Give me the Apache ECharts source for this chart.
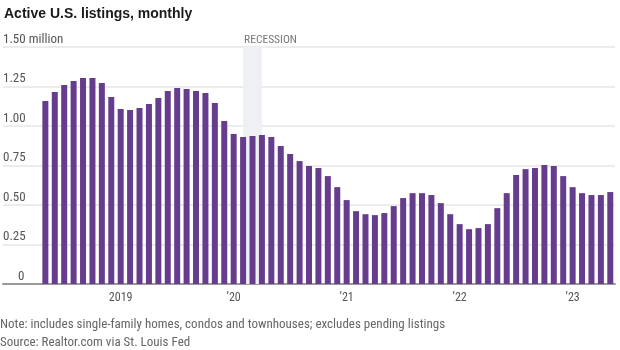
<!DOCTYPE html>
<html>
	<head>
		<meta charset="utf-8">
		<title></title>
		<script type="text/javascript" src="https://cdn.jsdelivr.net/npm/echarts@6/dist/echarts.min.js"></script>
	</head>
	<body style="margin:0;">
		<div id="chart" style="width:620px;height:350px;"></div>
		<script type="text/javascript">
			// empty months before the first bar, so the plot starts at the left edge
			var padMonths = ['2018-01', '2018-02', '2018-03', '2018-04'];
			var months = [
				'2018-05', '2018-06', '2018-07', '2018-08', '2018-09', '2018-10', '2018-11', '2018-12',
				'2019-01', '2019-02', '2019-03', '2019-04', '2019-05', '2019-06', '2019-07', '2019-08', '2019-09', '2019-10', '2019-11', '2019-12',
				'2020-01', '2020-02', '2020-03', '2020-04', '2020-05', '2020-06', '2020-07', '2020-08', '2020-09', '2020-10', '2020-11', '2020-12',
				'2021-01', '2021-02', '2021-03', '2021-04', '2021-05', '2021-06', '2021-07', '2021-08', '2021-09', '2021-10', '2021-11', '2021-12',
				'2022-01', '2022-02', '2022-03', '2022-04', '2022-05', '2022-06', '2022-07', '2022-08', '2022-09', '2022-10', '2022-11', '2022-12',
				'2023-01', '2023-02', '2023-03', '2023-04', '2023-05'
			];
			// active listings, millions
			var listings = [
				1.158, 1.215, 1.26, 1.285, 1.304, 1.304, 1.272, 1.184,
				1.108, 1.101, 1.114, 1.139, 1.177, 1.222, 1.241, 1.234, 1.222, 1.209, 1.146, 1.032,
				0.949, 0.930, 0.937, 0.943, 0.930, 0.873, 0.823, 0.778, 0.747, 0.734, 0.683, 0.613,
				0.531, 0.461, 0.442, 0.436, 0.449, 0.493, 0.544, 0.575, 0.575, 0.563, 0.512, 0.442,
				0.379, 0.347, 0.354, 0.379, 0.480, 0.575, 0.690, 0.727, 0.734, 0.753, 0.747, 0.683,
				0.613, 0.575, 0.563, 0.563, 0.582
			];
			var yTicks = [0, 0.25, 0.5, 0.75, 1, 1.25, 1.5];
			var recession = ['2020-02', '2020-04'];

			var narrow = '"Roboto Condensed", sans-serif';
			var categories = padMonths.concat(months);
			var values = padMonths.map(function() { return '-'; }).concat(listings);

			function isYearStart(index) {
				var c = categories[index];
				return c.slice(5) === '01' && c.slice(0, 4) !== '2018';
			}

			// grey recession band, drawn through the axes' own coordinates
			function renderRecession(params, api) {
				var p0 = api.coord([api.value(0), api.value(2)]);
				var p1 = api.coord([api.value(1), 0]);
				return {
					type: 'group',
					children: [{
						type: 'rect',
						shape: { x: p0[0], y: p0[1], width: p1[0] - p0[0], height: p1[1] - p0[1] },
						style: { fill: '#eef0f3' }
					}, {
						type: 'text',
						x: p0[0] + 1,
						y: p0[1] - 1,
						style: {
							text: 'RECESSION',
							font: '11.5px ' + narrow,
							fill: '#777',
							align: 'left',
							verticalAlign: 'bottom'
						}
					}]
				};
			}

			var myChart = echarts.init(document.getElementById('chart'));
			var option = {
				animation: false,
				title: {
					text: 'Active U.S. listings, monthly',
					left: -1,
					top: 2,
					textStyle: {
						fontFamily: '"Liberation Sans", Arial, sans-serif',
						fontSize: 14,
						fontWeight: 'bold',
						color: '#1a1a1a'
					}
				},
				graphic: [{
					type: 'text',
					left: 0,
					top: 316,
					style: {
						text: 'Note: includes single-family homes, condos and townhouses; excludes pending listings\nSource: Realtor.com via St. Louis Fed',
						font: '13px ' + narrow,
						lineHeight: 18,
						fill: '#666'
					}
				}],
				grid: {
					left: 0,
					right: 5,
					top: 47,
					bottom: 66
				},
				xAxis: {
					type: 'category',
					data: categories,
					axisLine: {
						lineStyle: { color: '#9a9a9a', width: 2 }
					},
					axisTick: {
						alignWithLabel: true,
						interval: function(index) { return isYearStart(index); },
						length: 5,
						lineStyle: { color: '#333' }
					},
					axisLabel: {
						interval: function(index) { return isYearStart(index); },
						margin: 8,
						fontFamily: narrow,
						fontSize: 12,
						color: '#555',
						formatter: function(value) {
							var y = value.slice(0, 4);
							return y === '2019' ? y : '\u2019' + y.slice(2);
						}
					}
				},
				yAxis: {
					type: 'value',
					min: yTicks[0],
					max: yTicks[yTicks.length - 1],
					interval: 0.25,
					axisLine: { show: false },
					axisTick: { show: false },
					splitLine: {
						lineStyle: { color: '#ececec', width: 2 }
					},
					axisLabel: {
						inside: true,
						margin: 0,
						align: 'left',
						verticalAlign: 'bottom',
						padding: [0, 0, 1, 0],
						fontFamily: narrow,
						fontSize: 13,
						color: '#555',
						formatter: function(v) {
							if (v === 1.5) return '1.50 million';
							if (v === 0) return '{z|0}';
							return v.toFixed(2);
						},
						rich: {
							z: { padding: [0, 0, 0, 15], fontFamily: narrow, fontSize: 13, color: '#555' }
						}
					}
				},
				series: [{
					type: 'custom',
					silent: true,
					renderItem: renderRecession,
					encode: { x: [0, 1], y: 2 },
					data: [[categories.indexOf(recession[0]), categories.indexOf(recession[1]), yTicks[yTicks.length - 1]]]
				}, {
					type: 'bar',
					data: values,
					barWidth: 6,
					itemStyle: { color: '#663d8c' }
				}]
			};
			myChart.setOption(option);
		</script>
	</body>
</html>
